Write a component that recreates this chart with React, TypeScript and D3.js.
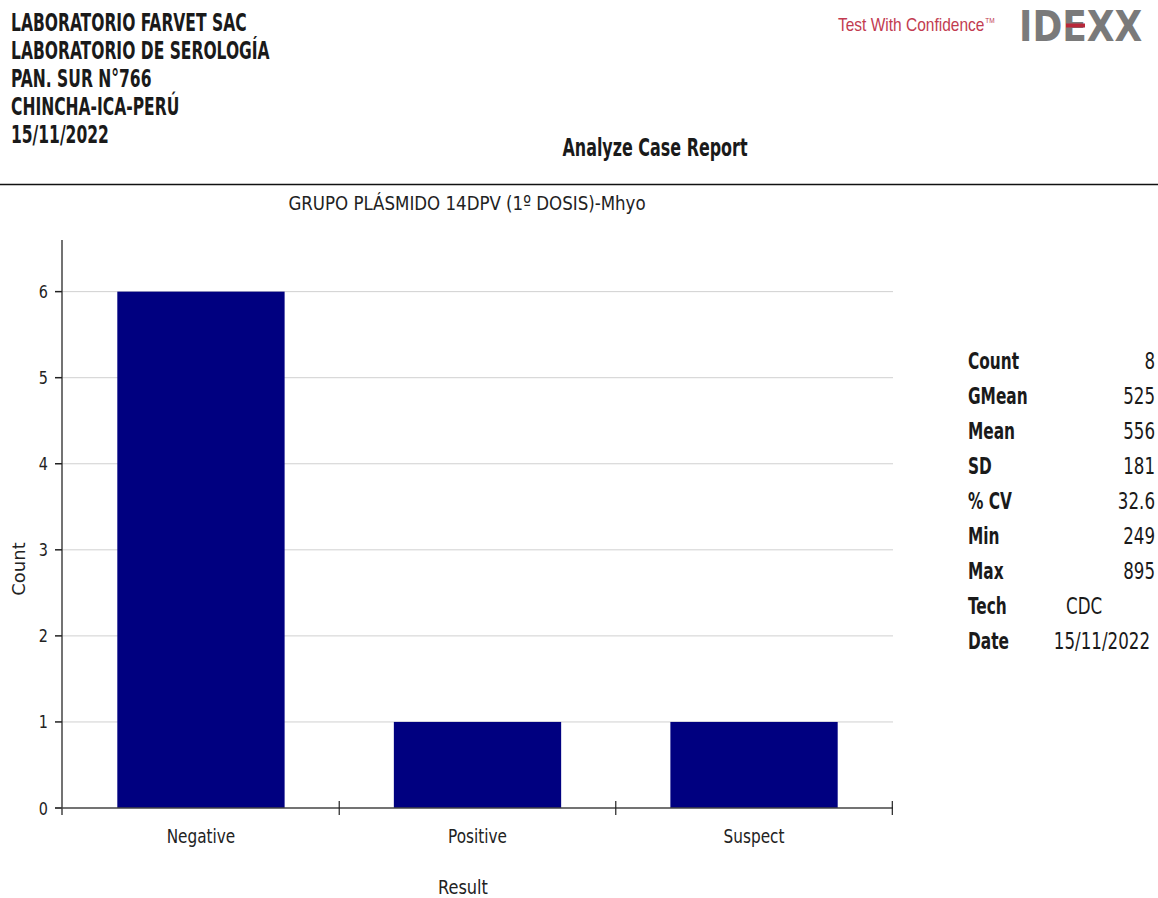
import React from "react";
import * as d3 from "d3";

const headerLines = [
  "LABORATORIO FARVET SAC",
  "LABORATORIO DE SEROLOGÍA",
  "PAN. SUR N°766",
  "CHINCHA-ICA-PERÚ",
  "15/11/2022",
];
const reportTitle = "Analyze Case Report";
const chartTitle = "GRUPO PLÁSMIDO 14DPV (1º DOSIS)-Mhyo";
const categories = ["Negative", "Positive", "Suspect"];
const counts = [6, 1, 1];
const yTicks = [0, 1, 2, 3, 4, 5, 6];
const statLabels = ["Count", "GMean", "Mean", "SD", "% CV", "Min", "Max", "Tech", "Date"];
const statValues = ["8", "525", "556", "181", "32.6", "249", "895", "CDC", "15/11/2022"];

const W = 1158;
const H = 898;
const plotLeft = 62;
const plotRight = 893;
const plotBottom = 808;
const plotTop = 240;

const cond = "'DejaVu Sans Condensed', 'DejaVu Sans', sans-serif";
const plain = "'DejaVu Sans', Verdana, sans-serif";

type TxtProps = {
  x: number;
  y: number;
  sx?: number;
  sy?: number;
  rot?: number;
  anchor?: "start" | "middle" | "end";
  size: number;
  family?: string;
  bold?: boolean;
  fill?: string;
  children: React.ReactNode;
};

function Txt({ x, y, sx = 1, sy = 1, rot = 0, anchor = "start", size, family = cond, bold, fill = "#1a1a1a", children }: TxtProps) {
  return (
    <text
      transform={`translate(${x},${y}) rotate(${rot}) scale(${sx},${sy})`}
      textAnchor={anchor}
      fontFamily={family}
      fontWeight={bold ? "bold" : "normal"}
      fontSize={size}
      fill={fill}
    >
      {children}
    </text>
  );
}

export default function App() {
  const x = d3
    .scaleBand<string>()
    .domain(categories)
    .range([plotLeft, plotRight])
    .paddingInner(0.395)
    .paddingOuter(0.2);
  const y = d3.scaleLinear().domain([0, 6.6]).range([plotBottom, plotTop]);
  const step = x.step();
  const outer = (plotRight - plotLeft - step * categories.length) / 2;
  const boundaries = categories.map((_, i) => plotLeft + outer + step * (i + 1));

  return (
    <svg width={W} height={H} style={{ position: "absolute", left: 0, top: 0, background: "#fff" }}>
      {/* Header block */}
      {headerLines.map((t, i) => (
        <Txt key={t} x={11} y={31 + i * 28} size={18} bold sx={0.96} sy={1.42}>
          {t}
        </Txt>
      ))}
      <Txt x={655} y={156} anchor="middle" size={18} bold sx={0.985} sy={1.4}>
        {reportTitle}
      </Txt>

      {/* Logo */}
      <text
        transform="translate(838,31) scale(1,1.2)"
        fontFamily="'Liberation Sans Narrow', 'Liberation Sans', Arial, sans-serif"
        fontSize={15.5}
        fill="#c23b50"
      >
        Test With Confidence
        <tspan fontSize={6.5} dy={-7} dx={1}>
          TM
        </tspan>
      </text>
      <Txt x={1019} y={41} size={36} sy={1.2} bold family="'DejaVu Sans', sans-serif" fill="#7a7a7a">
        IDEXX
      </Txt>
      <rect x={1066} y={23.5} width={19} height={4} fill="#b8283a" />

      {/* Separator */}
      <line x1={0} x2={W} y1={184.5} y2={184.5} stroke="#111" strokeWidth={1.5} />

      {/* Chart title */}
      <Txt x={467} y={210} anchor="middle" size={18.5} sy={1.05} fill="#222">
        {chartTitle}
      </Txt>

      {/* Grid lines */}
      {yTicks
        .filter((t) => t > 0)
        .map((t) => (
          <line key={"g" + t} x1={plotLeft} x2={plotRight} y1={y(t)} y2={y(t)} stroke="#d0d0d0" strokeWidth={1} />
        ))}

      {/* Bars */}
      {categories.map((c, i) => (
        <rect
          key={c}
          x={x(c)}
          y={y(counts[i])}
          width={x.bandwidth()}
          height={plotBottom - y(counts[i])}
          fill="#000080"
        />
      ))}

      {/* Y axis */}
      <line x1={plotLeft} x2={plotLeft} y1={plotTop} y2={plotBottom + 7} stroke="#444" strokeWidth={1.5} />
      {yTicks.map((t) => (
        <g key={"yt" + t}>
          <line x1={plotLeft - 7} x2={plotLeft} y1={y(t)} y2={y(t)} stroke="#222" strokeWidth={1.5} />
          <Txt x={plotLeft - 14} y={y(t) + 6.5} anchor="end" size={16} sy={1.1} fill="#222">
            {t}
          </Txt>
        </g>
      ))}
      <Txt x={25} y={569} rot={-90} anchor="middle" size={18} family={plain} fill="#222">
        Count
      </Txt>

      {/* X axis */}
      <line x1={plotLeft - 7} x2={plotRight} y1={plotBottom} y2={plotBottom} stroke="#444" strokeWidth={1.5} />
      {boundaries.map((bx, i) => (
        <line key={"xt" + i} x1={bx} x2={bx} y1={plotBottom - 7} y2={plotBottom + 7} stroke="#222" strokeWidth={1.2} />
      ))}
      {categories.map((c) => (
        <Txt key={"xl" + c} x={(x(c) as number) + x.bandwidth() / 2} y={843} anchor="middle" size={17} sy={1.13} fill="#222">
          {c}
        </Txt>
      ))}
      <Txt x={463} y={894} anchor="middle" size={18} sy={1.1} fill="#222">
        Result
      </Txt>

      {/* Stats */}
      {statLabels.map((l, i) => {
        const yy = 369 + i * 35;
        const v = statValues[i];
        const isTech = l === "Tech";
        const isDate = l === "Date";
        return (
          <g key={l}>
            <Txt x={968} y={yy} size={18} bold sx={0.95} sy={1.3}>
              {l}
            </Txt>
            <Txt
              x={isTech ? 1066 : isDate ? 1150 : 1155}
              y={yy}
              anchor={isTech ? "start" : "end"}
              size={18}
              sx={1.03}
              sy={1.3}
            >
              {v}
            </Txt>
          </g>
        );
      })}
    </svg>
  );
}
